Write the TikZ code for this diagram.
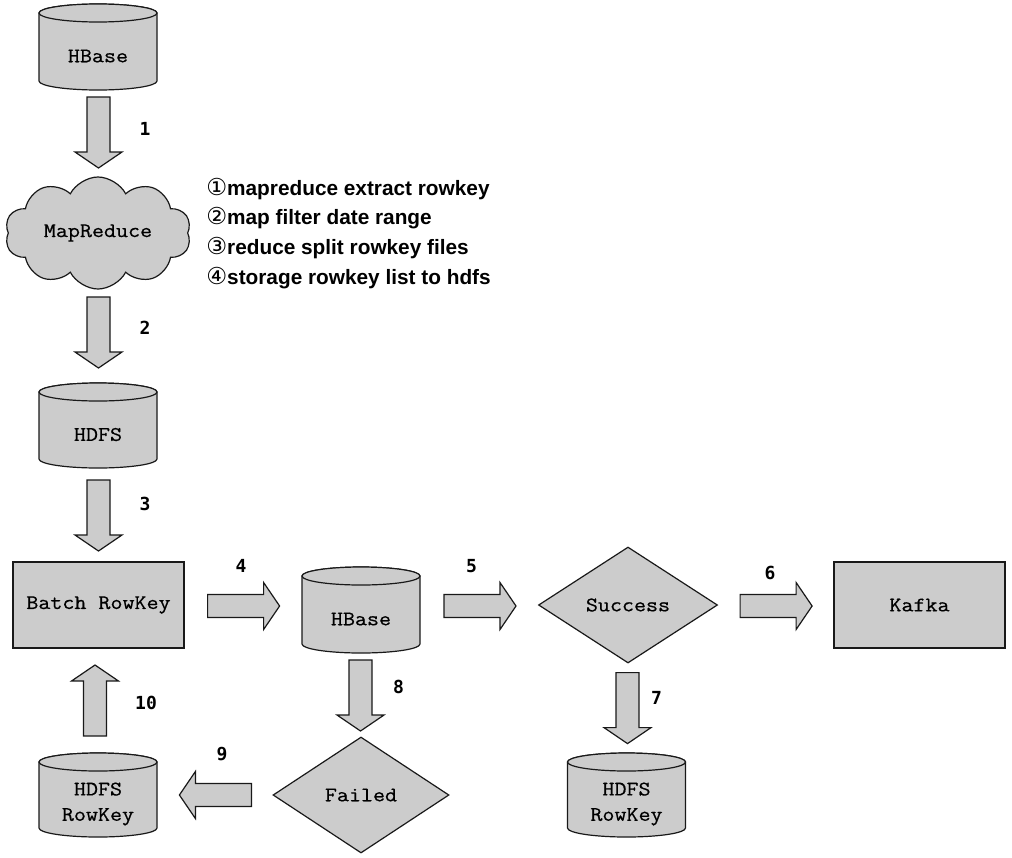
\documentclass[tikz,border=0pt]{standalone}
\usepackage{fontspec}
\setmonofont[FakeStretch=1.13,FakeBold=0.6]{Latin Modern Mono}
\newfontfamily\notef{Liberation Sans}
\newfontfamily\circf{DejaVu Sans}
\newfontfamily\numf{DejaVu Sans Mono}
\usetikzlibrary{shapes.geometric,shapes.symbols,calc}
\definecolor{boxfill}{RGB}{204,204,204}
\definecolor{edge}{RGB}{25,25,25}
\newcommand\nodefont{\ttfamily\fontsize{15.5}{19}\selectfont}
\newcommand\circnum[1]{{\circf\mdseries\fontsize{17.5}{18}\selectfont #1}}
\tikzset{
  base/.style={draw=edge, fill=boxfill, line width=0.9pt, line join=miter},
  lbl/.style={font=\numf\bfseries\fontsize{13.5}{15}\selectfont, inner sep=0pt},
  ntext/.style={font=\nodefont, align=center, inner sep=0pt},
  anchorbox/.style={inner sep=0pt, outer sep=0pt},
  note/.style={font=\notef\bfseries\fontsize{15.6}{18}\selectfont, anchor=west, inner sep=0pt},
  rectbox/.style={base, rectangle, minimum width=128.25pt, minimum height=64.5pt, inner sep=0pt, font=\nodefont},
  diabox/.style={base, diamond, minimum width=134.25pt, minimum height=87pt, inner sep=0pt, font=\nodefont},
}
% name, cx, top, bottom, text
\newcommand\cyl[5]{%
  \draw[base] ({#2-59},{#3+9}) -- ({#2-59},{#4-9})
     arc[start angle=180,end angle=0,x radius=59,y radius=9]
     -- ({#2+59},{#3+9})
     arc[start angle=0,end angle=-180,x radius=59,y radius=9] -- cycle;
  \draw[base] (#2,{#3+9}) ellipse[x radius=59,y radius=9];
  \node[anchorbox, minimum width=88.5pt, minimum height={(#4-#3)*0.75pt}] (#1) at (#2,{(#3+#4)/2}) {};
  \node[ntext] (#1-t) at ($(#1)+(0,9)$) {#5};
}
% start, rotation, length
\newcommand\barrow[3]{%
  \draw[base, shift={#1}, rotate=#2] (0,-11.5) -- ({#3-16},-11.5) -- ({#3-16},-23.5)
     -- (#3,0) -- ({#3-16},23.5) -- ({#3-16},11.5) -- (0,11.5) -- cycle;
}
\begin{document}
\begin{tikzpicture}[x=0.75pt,y=-0.75pt]
\useasboundingbox (0,0) rectangle (1012,857);

% nodes
\cyl{hb1}{98}{4}{90}{HBase}
\node[base, cloud, cloud puffs=10, cloud puff arc=125, cloud ignores aspect, minimum width=139.5pt, minimum height=84pt, inner sep=0pt, font=\nodefont] (mr) at (98,233) {MapReduce};
\cyl{hdfs}{98}{383}{468}{HDFS}
\node[rectbox] (brk) at (98.5,605) {Batch RowKey};
\cyl{hb2}{361}{567}{653}{HBase}
\node[diabox] (succ) at (628,605) {Success};
\node[rectbox] (kafka) at (919.5,605) {Kafka};
\node[diabox, minimum width=132pt] (fail) at (361,795) {Failed};
\cyl{hr1}{98}{753}{837}{HDFS\\[0pt]RowKey}
\cyl{hr2}{626.5}{753}{837}{HDFS\\[0pt]RowKey}

% notes
\node[note] (n1) at (206,189) {\circnum{①}mapreduce extract rowkey};
\node[note] (n2) at (206,218) {\circnum{②}map filter date range};
\node[note] (n3) at (206,248) {\circnum{③}reduce split rowkey files};
\node[note] (n4) at (206,278) {\circnum{④}storage rowkey list to hdfs};

% block arrows
\barrow{($(hb1.south)+(0.5,7)$)}{-90}{71}
\barrow{($(mr.center)+(0.5,64)$)}{-90}{71}
\barrow{($(hdfs.south)+(0.5,12)$)}{-90}{71}
\barrow{($(brk.east)+(23,1)$)}{0}{72}
\barrow{($(hb2.east)+(24,-4)$)}{0}{72}
\barrow{($(succ.east)+(22,1)$)}{0}{72}
\barrow{($(succ.south)+(-0.5,9)$)}{-90}{71}
\barrow{($(hb2.south)+(-0.5,7)$)}{-90}{71}
\barrow{($(fail.west)+(-21,0)$)}{180}{72}
\barrow{($(hr1.north)+(-3,-17)$)}{90}{71}

% labels
\node[lbl] (l1) at (145,129) {1};
\node[lbl] (l2) at (145,328) {2};
\node[lbl] (l3) at (145,504) {3};
\node[lbl] (l4) at (241,566) {4};
\node[lbl] (l5) at (471.5,566) {5};
\node[lbl] (l6) at (770,572.5) {6};
\node[lbl] (l7) at (656.5,698) {7};
\node[lbl] (l8) at (398.5,687) {8};
\node[lbl] (l9) at (222,754) {9};
\node[lbl] (l10) at (146,702.5) {10};
\end{tikzpicture}
\end{document}
